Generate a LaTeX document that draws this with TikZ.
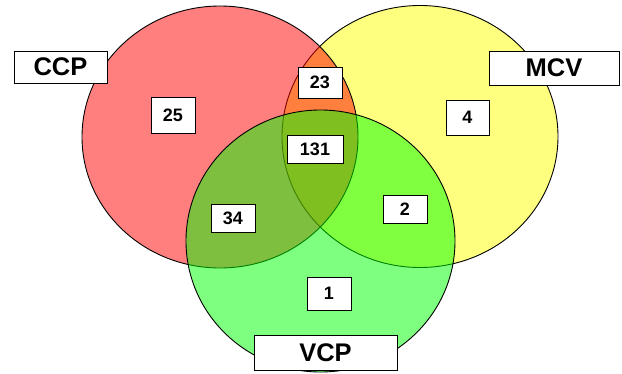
\documentclass[tikz,border=0pt]{standalone}
\usepackage{fontspec}
\setmainfont{Liberation Sans}
\begin{document}
\begin{tikzpicture}[x=1pt,y=-1pt,
  setcircle/.style={draw=black,line width=0.9pt,fill opacity=0.5},
  numbox/.style={draw=black,line width=1pt,fill=white,inner sep=0pt,
    font=\fontsize{18}{18}\selectfont\bfseries},
  namebox/.style={draw=black,line width=1pt,fill=white,inner sep=0pt,
    font=\fontsize{25.5}{25.5}\selectfont\bfseries}]
\useasboundingbox (0,0) rectangle (622,373);
\fill[white] (0,0) rectangle (622,373);
\draw[setcircle,fill={rgb,255:red,255;green,255;blue,0}] (420,136.5) ellipse [x radius=138,y radius=131];
\draw[setcircle,fill={rgb,255:red,255;green,0;blue,0}] (220,137) ellipse [x radius=138,y radius=131];
\draw[setcircle,fill={rgb,255:red,0;green,255;blue,0}] (320.5,241) ellipse [x radius=134.5,y radius=131];
\node[namebox,minimum width=93pt,minimum height=32pt] (ccp) at (60.5,67) {CCP};
\node[namebox,minimum width=130pt,minimum height=34pt] (mcv) at (554,68) {MCV};
\node[namebox,minimum width=143pt,minimum height=35pt] (vcp) at (325.5,352.5) {VCP};
\node[numbox,minimum width=44pt,minimum height=36pt] (n25) at (173,115) {25};
\node[numbox,minimum width=44pt,minimum height=31pt] (n23) at (320,82.5) {23};
\node[numbox,minimum width=56pt,minimum height=28pt] (n131) at (315,149) {131};
\node[numbox,minimum width=43pt,minimum height=35pt] (n4) at (467.5,117.5) {4};
\node[numbox,minimum width=44pt,minimum height=28pt] (n34) at (233,218) {34};
\node[numbox,minimum width=44pt,minimum height=28pt] (n2) at (405,209) {2};
\node[numbox,minimum width=44pt,minimum height=33pt] (n1) at (329,293.5) {1};
\end{tikzpicture}
\end{document}
